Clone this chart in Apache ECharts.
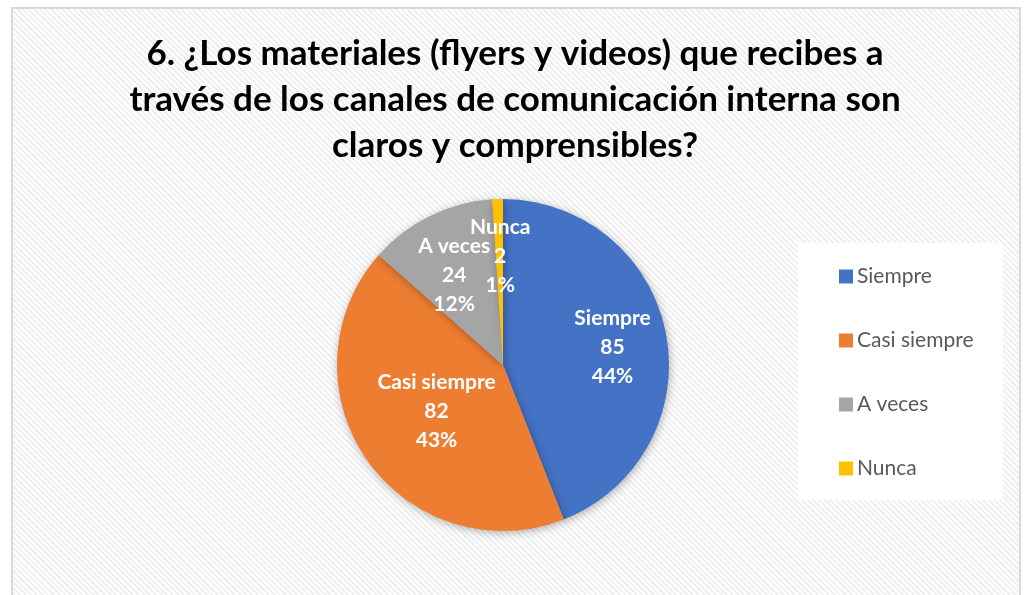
<!DOCTYPE html>
<html>
<head>
<meta charset="utf-8">
<script src="https://cdn.jsdelivr.net/npm/echarts@6/dist/echarts.min.js"></script>
<style>
html, body { margin: 0; padding: 0; background: #fff; }
.frame {
  position: absolute;
  left: 11px;
  top: 7px;
  width: 1006px;
  height: 600px;
  border: 2px solid #d9d9d9;
  background: repeating-linear-gradient(45deg, #ffffff 0px, #ffffff 2px, #efefef 2px, #efefef 4px);
}
#chart {
  position: absolute;
  left: 0;
  top: 0;
  width: 1029px;
  height: 595px;
}
</style>
</head>
<body>
<div class="frame"></div>
<div id="chart"></div>
<script>
const categories = ["Siempre", "Casi siempre", "A veces", "Nunca"];
const counts = [85, 82, 24, 2];
const percentLabels = ["44%", "43%", "12%", "1%"];
const colors = ["#4472C4", "#ED7D31", "#A5A5A5", "#FFC000"];
// label nudges to match the original label placement
const labelOffsets = [[25, -2], [4, -3], [-11, -13], [0, -23]];

const chart = echarts.init(document.getElementById("chart"));

const option = {
  backgroundColor: "transparent",
  title: {
    text: "6. ¿Los materiales (flyers y videos) que recibes a\ntravés de los canales de comunicación interna son\nclaros y comprensibles?",
    left: 510,
    textAlign: "center",
    top: 26,
    textStyle: {
      fontFamily: "Lato",
      fontWeight: "bold",
      fontSize: 35,
      lineHeight: 46,
      color: "#000"
    }
  },
  graphic: [
    {
      type: "rect",
      left: 798,
      top: 243,
      shape: { width: 205, height: 257 },
      style: { fill: "#ffffff" },
      z: 0
    }
  ],
  legend: {
    orient: "vertical",
    left: 834,
    top: 261,
    itemWidth: 14,
    itemHeight: 14,
    itemGap: 43,
    icon: "rect",
    data: categories,
    textStyle: {
      fontFamily: "Lato",
      fontSize: 21,
      color: "#595959",
      padding: [0, 0, 0, -1]
    }
  },
  series: [
    {
      type: "pie",
      center: [503, 365],
      radius: [0, 166],
      startAngle: 90,
      clockwise: true,
      silent: true,
      avoidLabelOverlap: false,
      minShowLabelAngle: 0,
      labelLayout: { hideOverlap: false },
      itemStyle: {
        shadowBlur: 8,
        shadowColor: "rgba(0,0,0,0.3)",
        shadowOffsetX: 1,
        shadowOffsetY: 2
      },
      label: {
        show: true,
        position: "inside",
        formatter: function (p) {
          return p.name + "\n" + p.value + "\n" + percentLabels[p.dataIndex];
        },
        fontFamily: "Lato",
        fontWeight: "bold",
        fontSize: 21,
        lineHeight: 29,
        color: "#ffffff"
      },
      labelLine: { show: false },
      data: categories.map(function (name, i) {
        return {
          name: name,
          value: counts[i],
          itemStyle: { color: colors[i] },
          label: { offset: labelOffsets[i] }
        };
      })
    }
  ]
};

chart.setOption(option);
</script>
</body>
</html>
